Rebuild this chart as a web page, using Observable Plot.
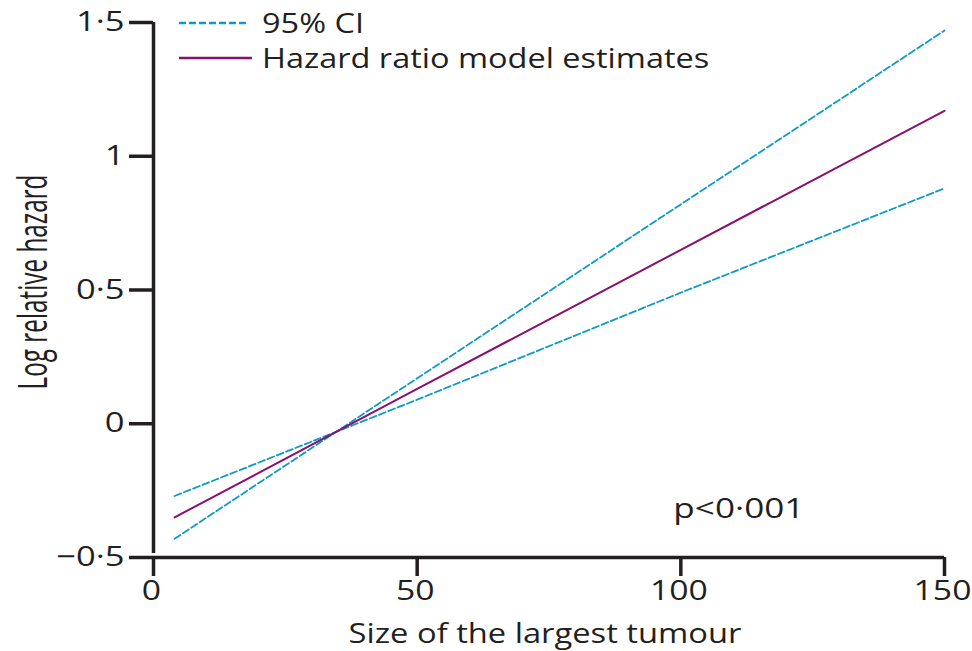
<!DOCTYPE html>
<html><head><meta charset="utf-8">
<script src="https://cdn.jsdelivr.net/npm/d3@7"></script>
<script src="https://cdn.jsdelivr.net/npm/@observablehq/plot@0.6"></script>
<style>
body{margin:0;background:#fff}
#wrap{position:relative;width:972px;height:651px;font-family:"Open Sans",sans-serif;color:#231f20}
#legend{position:absolute;left:179px;top:5px;font-size:27.3px}
#legend .row{display:flex;align-items:center;height:35px;white-space:nowrap}
#legend svg{margin-right:10px;flex:none}
#legend span{display:inline-block;transform:scaleX(1.19);transform-origin:left center}
</style>
</head><body><div id="wrap"><div id="legend"></div></div>
<script>
const tumourSize = [4, 50, 100, 150];
const estimate = [-0.35, 0.13, 0.65, 1.17];
const ciFlat = [-0.27, 0.09, 0.49, 0.88];
const ciSteep = [-0.43, 0.17, 0.82, 1.47];
const xTicks = [0, 50, 100, 150];
const yTicks = [-0.5, 0, 0.5, 1, 1.5];
const yTickLabels = ["−0·5", "0", "0·5", "1", "1·5"];
const annotation = [{x: 111, y: -0.32, text: "p<0·001"}];
const xTitle = "Size of the largest tumour";
const yTitle = "Log relative hazard";
const legendItems = [
  {label: "95% CI", color: "#0e9ac6", dash: "7,3", width: 70},
  {label: "Hazard ratio model estimates", color: "#8a0f6e", dash: null, width: 73}
];

const rows = [];
tumourSize.forEach((s, i) => {
  rows.push({s, v: estimate[i], series: "est"});
  rows.push({s, v: ciFlat[i], series: "ciA"});
  rows.push({s, v: ciSteep[i], series: "ciB"});
});
const textColor = "#231f20";

const chart = Plot.plot({
  width: 972, height: 651,
  marginLeft: 153, marginRight: 28, marginTop: 22, marginBottom: 94,
  x: {domain: [0, 150], axis: null},
  y: {domain: [-0.5, 1.5], axis: null},
  style: {fontFamily: "Open Sans, sans-serif", fontSize: "26px", color: textColor, background: "#fff"},
  marks: [
    Plot.line(rows.filter(d => d.series === "ciA"), {x: "s", y: "v", stroke: legendItems[0].color, strokeWidth: 1.8, strokeDasharray: legendItems[0].dash}),
    Plot.line(rows.filter(d => d.series === "ciB"), {x: "s", y: "v", stroke: legendItems[0].color, strokeWidth: 1.8, strokeDasharray: legendItems[0].dash}),
    Plot.line(rows.filter(d => d.series === "est"), {x: "s", y: "v", stroke: legendItems[1].color, strokeWidth: 2}),
    Plot.ruleX([0], {y1: -0.5, y2: 1.5, stroke: textColor, strokeWidth: 3.5, insetTop: -4}),
    Plot.ruleY([-0.5], {x1: 0, x2: 150, stroke: textColor, strokeWidth: 3.5}),
    Plot.axisX({ticks: xTicks, tickSize: 19, tickPadding: 4, strokeWidth: 3.5, stroke: textColor, fill: textColor, fontSize: 27, textStroke: "none", tickFormat: d => String(d)}),
    Plot.axisY({ticks: yTicks, tickSize: 24, tickPadding: 5, strokeWidth: 3.5, stroke: textColor, fill: textColor, fontSize: 27, tickFormat: d => yTickLabels[yTicks.indexOf(d)]}),
    Plot.text(annotation, {x: "x", y: "y", text: "text", fontSize: 27, fill: textColor}),
    Plot.text([xTitle], {frameAnchor: "bottom", lineAnchor: "middle", dy: 77, dx: -4, fontSize: 26.6, fill: textColor}),
    Plot.text([yTitle], {frameAnchor: "left", textAnchor: "middle", lineAnchor: "middle", rotate: -90, dx: -119, dy: -8, fontSize: 24.3, fill: textColor})
  ]
});
document.getElementById("wrap").prepend(chart);

function scaleText(t, kx, ky, shift) {
  const tr = t.getAttribute("transform");
  const pre = shift ? `translate(${shift},0) ` : "";
  if (tr && tr.includes("translate")) {
    t.setAttribute("transform", pre + tr + ` scale(${kx},${ky})`);
  } else {
    const x = +t.getAttribute("x") || 0, y = +t.getAttribute("y") || 0;
    t.setAttribute("transform", `${pre}translate(${x},${y}) scale(${kx},${ky}) translate(${-x},${-y})`);
  }
}
const xTickStrs = xTicks.map(String);
chart.querySelectorAll("text").forEach(t => {
  const s = t.textContent;
  if (s === yTitle) scaleText(t, 1, 1.67);
  else if (s === xTitle) scaleText(t, 1.23, 1);
  else if (s === annotation[0].text) scaleText(t, 1.3, 1);
  else if (yTickLabels.includes(s) && !xTickStrs.includes(s)) scaleText(t, 1.28, 1);
  else if (xTickStrs.includes(s)) {
    // x tick labels and the y tick label "0" share text; tell them apart by anchor
    const anchor = t.closest("g").getAttribute("text-anchor") || t.getAttribute("text-anchor");
    if (t.closest('g[aria-label="x-axis tick label"]')) scaleText(t, 1.25, 1, -2);
    else scaleText(t, 1.28, 1);
  }
});

const legend = document.getElementById("legend");
legendItems.forEach(it => {
  const row = document.createElement("div");
  row.className = "row";
  row.innerHTML = `<svg width="73" height="6"><line x1="0" x2="${it.width}" y1="3" y2="3" stroke="${it.color}" stroke-width="2.5" ${it.dash ? `stroke-dasharray="${it.dash}"` : ""}/></svg><span>${it.label}</span>`;
  legend.appendChild(row);
});
</script>
</body></html>
